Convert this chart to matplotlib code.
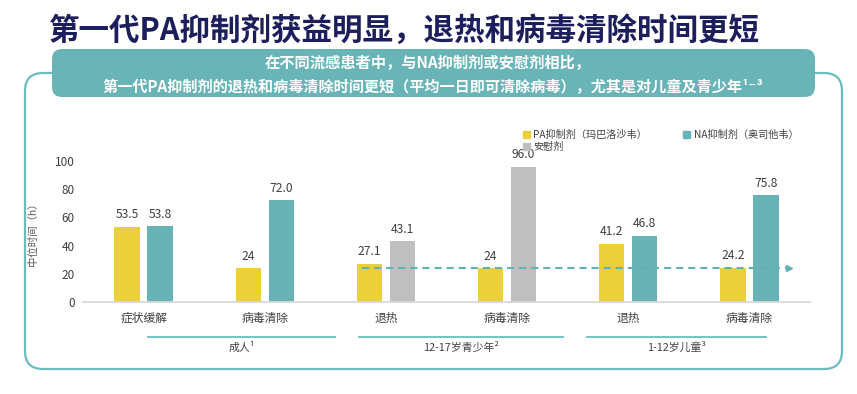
import matplotlib
matplotlib.use('agg')
import matplotlib.pyplot as plt
from matplotlib.patches import FancyBboxPatch, Patch
import matplotlib.transforms as mtransforms


plt.rcParams['font.family'] = ['Noto Sans CJK SC', 'DejaVu Sans']

# data
categories = ['症状缓解', '病毒清除', '退热', '病毒清除', '退热', '病毒清除']
pa_values = [53.5, 24, 27.1, 24, 41.2, 24.2]
pa_labels = ['53.5', '24', '27.1', '24', '41.2', '24.2']
comp_values = [53.8, 72.0, 43.1, 96.0, 46.8, 75.8]
comp_labels = ['53.8', '72.0', '43.1', '96.0', '46.8', '75.8']
comp_kind = ['NA', 'NA', 'placebo', 'placebo', 'NA', 'NA']
groups = ['成人¹', '12-17岁青少年²', '1-12岁儿童³']
group_spans = [(0.04, 1.58), (1.78, 3.46), (3.66, 5.14)]
ref_level = 24
yticks = [0, 20, 40, 60, 80, 100]

YELLOW = '#ebcf3b'
TEAL = '#68b3b6'
GRAY = '#bfbfbf'
NAVY = '#1c1f5c'
TXT = '#404040'
kind_colors = {'NA': TEAL, 'placebo': GRAY}

W, H = 857, 394
fig = plt.figure(figsize=(W / 100, H / 100), dpi=100)

# background layer in pixel units: frame, banner, title
bg = fig.add_axes([0, 0, 1, 1], zorder=0)
bg.set_xlim(0, W)
bg.set_ylim(H, 0)
bg.axis('off')

frame = FancyBboxPatch((25, 73), 817, 296, boxstyle='round,pad=0,rounding_size=18',
                       fc='white', ec='#6bbcbf', lw=1.6)
bg.add_patch(frame)
banner = FancyBboxPatch((52, 49), 763, 48, boxstyle='round,pad=0,rounding_size=10',
                        fc='#68b4b6', ec='none')
bg.add_patch(banner)

bg.text(404, 31, '第一代PA抑制剂获益明显，退热和病毒清除时间更短', ha='center', va='center',
        fontsize=22, fontweight='bold', color=NAVY)
bg.text(428, 63, '在不同流感患者中，与NA抑制剂或安慰剂相比，', ha='center', va='center',
        fontsize=11, fontweight='bold', color='white')
bg.text(433, 87, '第一代PA抑制剂的退热和病毒清除时间更短（平均一日即可清除病毒），尤其是对儿童及青少年¹⁻³',
        ha='center', va='center', fontsize=10.9, fontweight='bold', color='white')

# main chart
ax = fig.add_axes([83 / W, 1 - 302 / H, (810 - 83) / W, (302 - 161) / H], zorder=1)
ax.patch.set_alpha(0)

x = list(range(len(categories)))
bw = 0.21
off = 0.136
ax.bar([i - off for i in x], pa_values, width=bw, color=YELLOW, zorder=2)
ax.bar([i + off for i in x], comp_values, width=bw,
       color=[kind_colors[k] for k in comp_kind], zorder=2)

for i in x:
    ax.annotate(pa_labels[i], (i - off, pa_values[i]), xytext=(0, 4), textcoords='offset points',
                ha='center', va='bottom', fontsize=8.7, color=TXT)
    ax.annotate(comp_labels[i], (i + off, comp_values[i]), xytext=(0, 4), textcoords='offset points',
                ha='center', va='bottom', fontsize=8.7, color=TXT)

# dashed reference line at 24 h with arrow head
ax.plot([1.80, 5.30], [ref_level, ref_level], ls=(0, (3.4, 2.4)), color='#5fb3b5', lw=1.5, zorder=3)
ax.plot([5.33], [ref_level], marker='>', ms=4.5, color='#5fb3b5', zorder=3)

ax.set_xlim(-0.5, 5.5)
ax.set_ylim(0, 100)
ax.set_yticks(yticks)
ax.set_xticks(x)
ax.set_xticklabels(categories)
ax.tick_params(axis='both', length=0, labelsize=8.5, colors=TXT)
ax.tick_params(axis='x', pad=7)
ax.tick_params(axis='y', pad=6)
for s in ['top', 'right', 'left']:
    ax.spines[s].set_visible(False)
ax.spines['bottom'].set_color('#d9d9d9')
ax.spines['bottom'].set_linewidth(1.3)
ax.set_ylabel('中位时间（h）', fontsize=7.5, color='#595959', labelpad=12)

# group brackets under the categories
trans = mtransforms.blended_transform_factory(ax.transData, ax.transAxes)
for name, (a, b) in zip(groups, group_spans):
    ax.plot([a, b], [-0.248, -0.248], transform=trans, color='#6bbcbf', lw=1.3, clip_on=False)
    ax.text((a + b) / 2, -0.32, name, transform=trans, ha='center', va='center',
            fontsize=7.8, color=TXT)

handles = [Patch(color=YELLOW, label='PA抑制剂（玛巴洛沙韦）'),
           Patch(color=GRAY, label='安慰剂'),
           Patch(color=TEAL, label='NA抑制剂（奥司他韦）')]
leg = ax.legend(handles=handles, ncol=2, loc='upper left', bbox_to_anchor=(523 / W, 1 - 130 / H),
                bbox_transform=fig.transFigure, frameon=False, fontsize=7.3, handlelength=0.65,
                handleheight=0.65, handletextpad=0.35, columnspacing=3.6, labelspacing=0.2,
                borderpad=0, borderaxespad=0)
for t in leg.get_texts():
    t.set_color(TXT)

plt.savefig('out.png', dpi=100)
